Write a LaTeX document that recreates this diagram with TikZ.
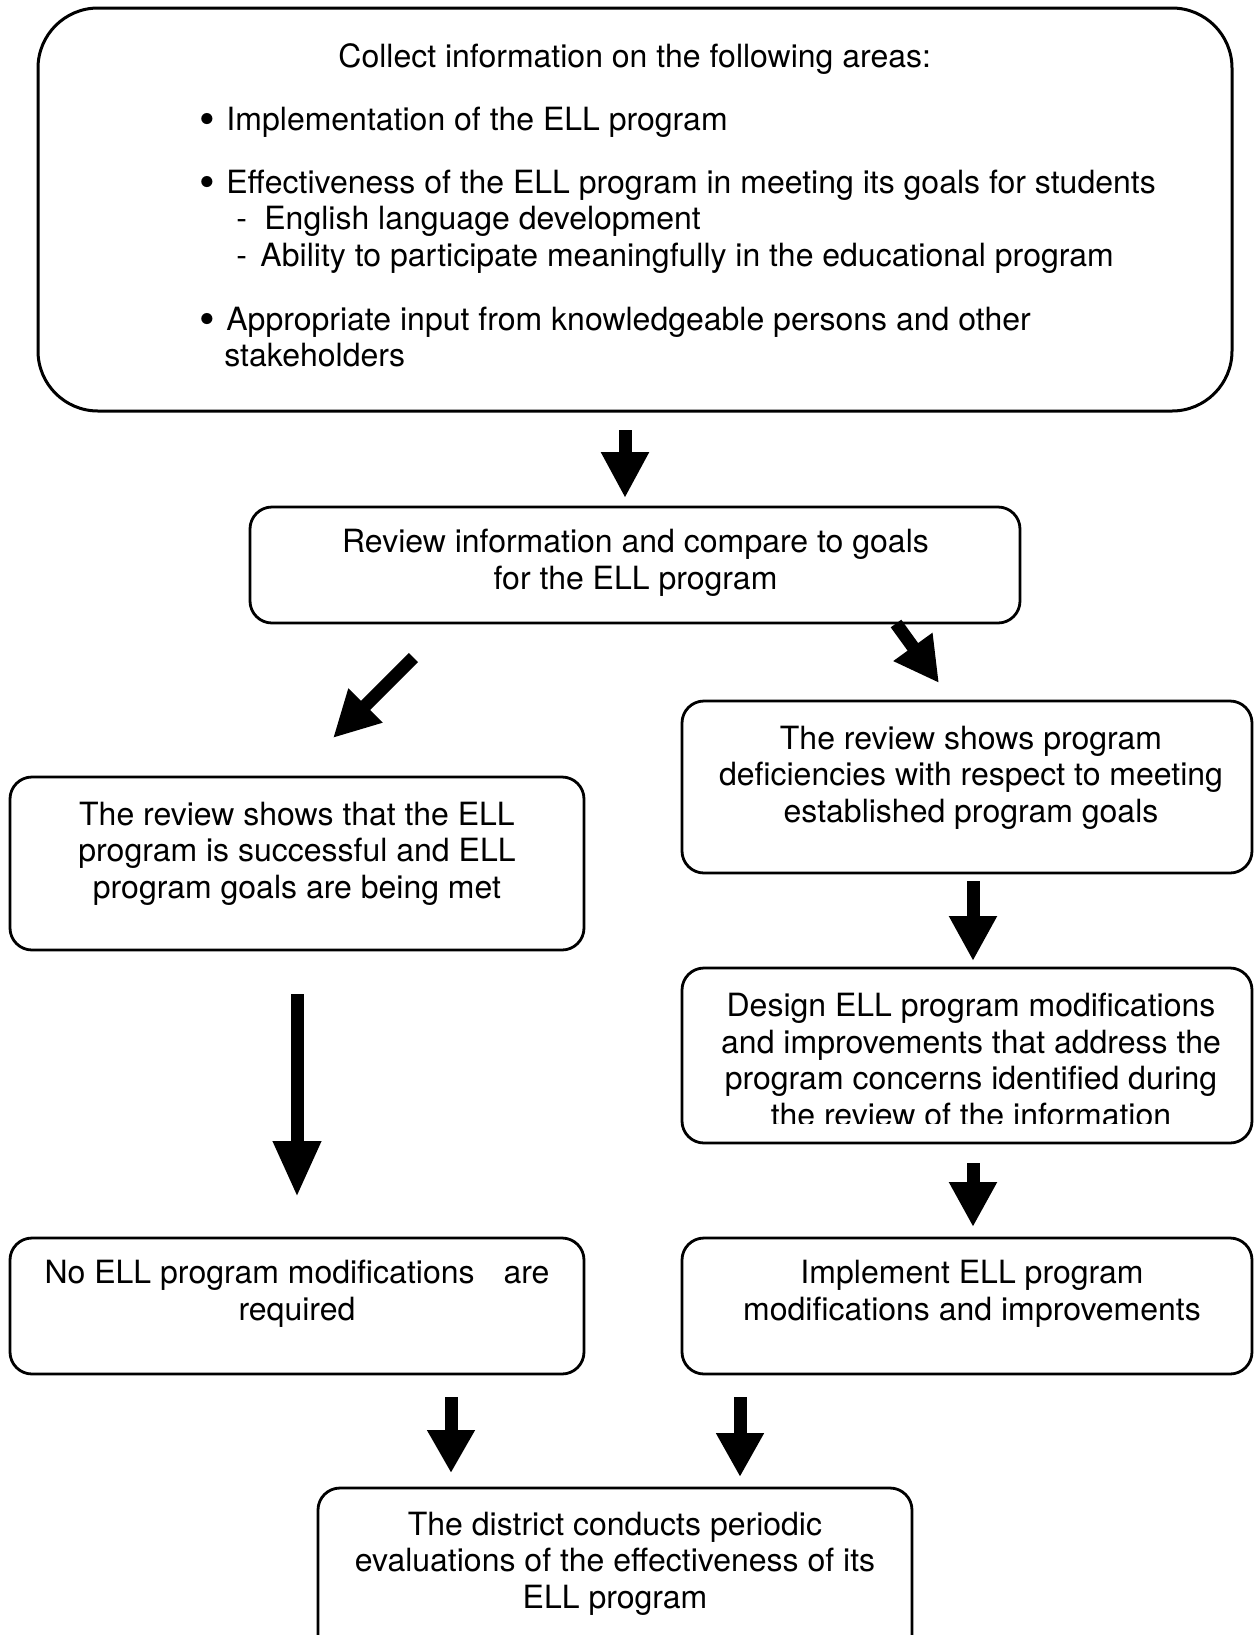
\documentclass[tikz,border=0pt]{standalone}
\usepackage{fontspec}
\setmainfont{TeX Gyre Heros}
\usetikzlibrary{arrows.meta}
\newcommand{\mybul}{\makebox[13pt][l]{\hspace{-0.6pt}\raisebox{-2.2pt}{\scalebox{1.4}{•}}}}
\begin{document}
\begin{tikzpicture}[x=0.5pt,y=-0.5pt,
  box/.style={draw, line width=1.4pt, rounded corners=11pt, inner sep=0pt},
  txt/.style={inner sep=0pt, anchor=base, align=center, font=\fontsize{16}{18.25}\selectfont},
  ltxt/.style={inner sep=0pt, anchor=base west, font=\fontsize{16}{18.25}\selectfont},
  blk/.style={line width=6.5pt, -{Triangle[length=#1, width=22.5pt]}},
  blk/.default=23pt]
\clip (0,0) rectangle (1254,1635);
% boxes
\node[box, line width=1.5pt, rounded corners=30pt, minimum width=597pt, minimum height=201.5pt] (top) at (635,209.5) {};
\node[box, minimum width=385pt, minimum height=58pt] (rev) at (635,565) {};
\node[box, minimum width=287pt, minimum height=86.5pt] (succ) at (297,863.5) {};
\node[box, minimum width=285pt, minimum height=86pt] (def) at (967,787) {};
\node[box, minimum width=285pt, minimum height=87.5pt] (des) at (967,1055.5) {};
\node[box, minimum width=287pt, minimum height=68pt] (nomod) at (297,1306) {};
\node[box, minimum width=285pt, minimum height=68pt] (impl) at (967,1306) {};
\node[box, minimum width=297pt, minimum height=106pt] (dist) at (615,1594) {};
% top box text
\node[ltxt] (t0) at (338,67) {Collect information on the following areas:};
\node[ltxt] (t1) at (200,130) {\mybul Implementation of the ELL program};
\node[ltxt] (t2) at (200,193) {\mybul Effectiveness of the ELL program in meeting its goals for students};
\node[ltxt] (t3) at (236,229) {\makebox[14pt][l]{-}English language development};
\node[ltxt] (t4) at (236,266) {\makebox[12pt][l]{-}Ability to participate meaningfully in the educational program};
\node[ltxt] (t5) at (200,330) {\mybul Appropriate input from knowledgeable persons and other};
\node[ltxt] (t6) at (224,366) {stakeholders};
% other texts (anchor = baseline of the last line)
\node[txt] (revtxt) at (635.5,589) {Review information and compare to goals\\for the ELL program};
\node[txt] (succtxt) at (297,898) {The review shows that the ELL\\program is successful and ELL\\program goals are being met};
\node[txt] (deftxt) at (971,822) {The review shows program\\deficiencies with respect to meeting\\established program goals};
\begin{scope}
\clip (682,960) rectangle (1252,1123);
\node[txt] (destxt) at (971,1126) {Design ELL program modifications\\and improvements that address the\\program concerns identified during\\the review of the information};
\end{scope}
\node[txt] (nomodtxt) at (297,1320) {No ELL program modifications\hspace{10pt} are\\required};
\node[txt] (impltxt) at (972,1320) {Implement ELL program\\modifications and improvements};
\node[txt] (disttxt) at (615,1608) {The district conducts periodic\\evaluations of the effectiveness of its\\ELL program};
% arrow coordinates
\coordinate (a1s) at (625,430);   \coordinate (a1e) at (625,498);
\coordinate (a2s) at (896,623.5); \coordinate (a2e) at (939,683);
\coordinate (a3s) at (413.5,657.5); \coordinate (a3e) at (333,738);
\coordinate (a4s) at (297,994);   \coordinate (a4e) at (297,1197);
\coordinate (a5s) at (973,881);   \coordinate (a5e) at (973,961);
\coordinate (a6s) at (973,1163);  \coordinate (a6e) at (973,1227);
\coordinate (a7s) at (451,1397);  \coordinate (a7e) at (451,1473);
\coordinate (a8s) at (740,1397);  \coordinate (a8e) at (740,1477);
\draw[blk] (a1s) -- (a1e);
\draw[blk=22.3pt] (a2s) -- (a2e);
\draw[blk] (a3s) -- (a3e);
\draw[blk=28pt] (a4s) -- (a4e);
\draw[blk=22.5pt] (a5s) -- (a5e);
\draw[blk=22.5pt] (a6s) -- (a6e);
\draw[blk=21.5pt] (a7s) -- (a7e);
\draw[blk=22pt] (a8s) -- (a8e);
\end{tikzpicture}
\end{document}
